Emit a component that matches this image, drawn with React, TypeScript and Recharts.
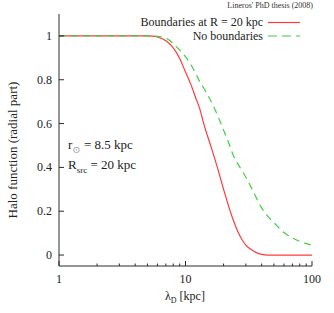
import React from "react";
import { LineChart, Line, XAxis, YAxis, Legend } from "recharts";

// lambda_D in kpc
const lambdaD = [1, 2, 3, 4, 5, 5.5, 6, 7, 8, 9, 10, 11, 12, 13, 14, 15, 16, 18, 20, 22, 24, 26, 28, 30, 33, 36, 40, 45, 50, 60, 70, 80, 90, 100];
// Boundaries at R = 20 kpc
const withBoundaries = [1, 1, 1, 1, 1, 0.999, 0.995, 0.978, 0.945, 0.897, 0.835, 0.78, 0.72, 0.665, 0.595, 0.54, 0.49, 0.393, 0.3, 0.22, 0.155, 0.105, 0.07, 0.045, 0.025, 0.012, 0.003, 0, 0, 0, 0, 0, 0, 0];
// No boundaries
const noBoundaries = [1, 1, 1, 1, 1, 1, 0.998, 0.99, 0.965, 0.935, 0.905, 0.87, 0.83, 0.79, 0.76, 0.73, 0.7, 0.635, 0.57, 0.51, 0.452, 0.415, 0.385, 0.355, 0.31, 0.265, 0.215, 0.175, 0.148, 0.103, 0.078, 0.062, 0.052, 0.045];

const xTicks = [1, 2, 3, 4, 5, 6, 7, 8, 9, 10, 20, 30, 40, 50, 60, 70, 80, 90, 100];
const xLabels = [1, 10, 100];
const yTicks = [0, 0.2, 0.4, 0.6, 0.8, 1];

const rows = lambdaD.map((x, i) => ({ x, r: withBoundaries[i], n: noBoundaries[i] }));

const FONT = "'Liberation Serif', 'DejaVu Serif', serif";
const FRAME = "#2a2a2a";

function XTick({ x, y, payload, side }: any) {
  const major = xLabels.includes(payload.value);
  const len = major ? 5 : 2.5;
  const dir = side === "bottom" ? -1 : 1;
  return (
    <g>
      <line x1={x} x2={x} y1={y} y2={y + dir * len} stroke={FRAME} strokeWidth={1} />
      {side === "bottom" && major && (
        <text x={x} y={y + 13} textAnchor="middle" dominantBaseline="central" fontSize={12} fill="#222" fontFamily={FONT}>
          {payload.value}
        </text>
      )}
    </g>
  );
}

function YTick({ x, y, payload, side }: any) {
  const dir = side === "left" ? 1 : -1;
  return (
    <g>
      <line x1={x} x2={x + dir * 5} y1={y} y2={y} stroke={FRAME} strokeWidth={1} />
      {side === "left" && (
        <text x={x - 7} y={y} textAnchor="end" dominantBaseline="central" fontSize={12} fill="#222" fontFamily={FONT}>
          {payload.value}
        </text>
      )}
    </g>
  );
}

function LegendBox({ payload }: any) {
  return (
    <div style={{ position: "relative", width: 334, height: 46 }}>
      {(payload || []).map((p: any, i: number) => (
        <div key={p.value} style={{ position: "absolute", right: 334 - 263, top: 16 + i * 13.5, fontSize: 12, lineHeight: "13px", color: "#222", fontFamily: FONT, whiteSpace: "nowrap" }}>
          {p.value}
        </div>
      ))}
      <svg width={334} height={46} style={{ position: "absolute", left: 0, top: 0 }}>
        {(payload || []).map((p: any, i: number) => (
          <line key={p.value} x1={268} x2={300} y1={22.5 + i * 13.5} y2={22.5 + i * 13.5} stroke={p.color} strokeWidth={1.2} strokeDasharray={i === 1 ? "9 5" : undefined} />
        ))}
      </svg>
    </div>
  );
}

export default function App() {
  return (
    <div style={{ position: "absolute", left: 0, top: 0, width: 334, height: 313, background: "#fff", fontFamily: FONT }}>
      <LineChart width={334} height={313} data={rows} margin={{ top: 14, right: 22, bottom: 0, left: 0 }}>
        <XAxis
          xAxisId="b"
          dataKey="x"
          type="number"
          scale="log"
          domain={[1, 100]}
          ticks={xTicks}
          interval={0}
          height={47}
          tickSize={0}
          tickMargin={0}
          tickLine={false}
          axisLine={{ stroke: FRAME }}
          tick={<XTick side="bottom" />}
        />
        <XAxis
          xAxisId="t"
          dataKey="x"
          type="number"
          scale="log"
          domain={[1, 100]}
          ticks={xTicks}
          interval={0}
          orientation="top"
          height={0}
          tickSize={0}
          tickMargin={0}
          tickLine={false}
          axisLine={{ stroke: FRAME }}
          tick={<XTick side="top" />}
        />
        <YAxis
          yAxisId="l"
          type="number"
          domain={[-0.05, 1.1]}
          ticks={yTicks}
          interval={0}
          width={59}
          tickSize={0}
          tickMargin={0}
          tickLine={false}
          axisLine={{ stroke: FRAME }}
          tick={<YTick side="left" />}
        />
        <YAxis
          yAxisId="r"
          orientation="right"
          type="number"
          domain={[-0.05, 1.1]}
          ticks={yTicks}
          interval={0}
          width={0}
          tickSize={0}
          tickMargin={0}
          tickLine={false}
          axisLine={{ stroke: FRAME }}
          tick={<YTick side="right" />}
        />
        <Legend
          layout="vertical"
          align="center"
          verticalAlign="middle"
          wrapperStyle={{ left: 0, top: 0, width: 334, height: 46 }}
          content={<LegendBox />}
        />
        <Line
          xAxisId="b"
          yAxisId="l"
          type="monotone"
          dataKey="r"
          name="Boundaries at R = 20 kpc"
          stroke="#ff3a3a"
          strokeWidth={1.2}
          dot={false}
          isAnimationActive={false}
        />
        <Line
          xAxisId="b"
          yAxisId="l"
          type="monotone"
          dataKey="n"
          name="No boundaries"
          stroke="#3fce3f"
          strokeWidth={1.2}
          strokeDasharray="7 5"
          dot={false}
          isAnimationActive={false}
        />
      </LineChart>

      <div style={{ position: "absolute", right: 21, top: 1, fontSize: 8, color: "#333", whiteSpace: "nowrap" }}>
        Lineros' PhD thesis (2008)
      </div>
      <div style={{ position: "absolute", left: 68, top: 137, fontSize: 13, lineHeight: "16px", color: "#222", whiteSpace: "nowrap" }}>
        r<sub style={{ fontSize: 10, color: "#999" }}>⊙</sub> = 8.5 kpc
      </div>
      <div style={{ position: "absolute", left: 68, top: 157, fontSize: 13, lineHeight: "16px", color: "#222", whiteSpace: "nowrap" }}>
        R<sub style={{ fontSize: 9 }}>src</sub> = 20 kpc
      </div>
      <div style={{ position: "absolute", left: 165, top: 289, fontSize: 12, lineHeight: "14px", color: "#222", whiteSpace: "nowrap" }}>
        λ<sub style={{ fontSize: 8 }}>D</sub> [kpc]
      </div>
      <div
        style={{
          position: "absolute",
          left: 13,
          top: 150,
          fontSize: 13,
          lineHeight: "14px",
          color: "#222",
          whiteSpace: "nowrap",
          transform: "translate(-50%, -50%) rotate(-90deg)",
        }}
      >
        Halo function (radial part)
      </div>
    </div>
  );
}
